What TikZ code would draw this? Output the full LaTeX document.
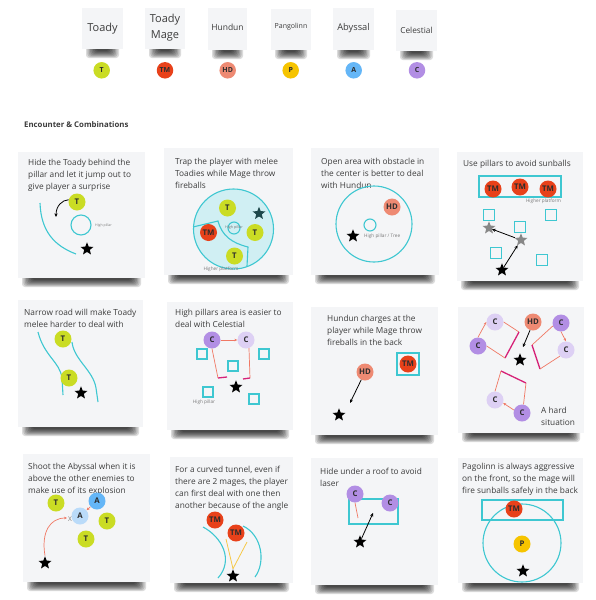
\documentclass[tikz,border=0pt]{standalone}
\usepackage{fontspec}
\setmainfont{Open Sans}
\usetikzlibrary{shapes.geometric,arrows.meta}
\definecolor{wallc}{RGB}{62,199,209}
\definecolor{poolc}{RGB}{208,239,243}
\definecolor{toadyc}{RGB}{202,220,36}
\definecolor{magec}{RGB}{232,65,26}
\definecolor{hdc}{RGB}{238,138,115}
\definecolor{pgc}{RGB}{246,196,0}
\definecolor{abyc}{RGB}{100,182,247}
\definecolor{abylc}{RGB}{186,219,249}
\definecolor{celc}{RGB}{178,142,228}
\definecolor{cellc}{RGB}{221,208,244}
\definecolor{laserc}{RGB}{240,120,100}
\definecolor{magc}{RGB}{214,34,120}
\definecolor{sightc}{RGB}{246,200,72}
\definecolor{tealstar}{RGB}{30,72,75}
\definecolor{graystar}{RGB}{135,135,135}
\definecolor{cardbg}{RGB}{244,245,247}
\definecolor{textc}{RGB}{60,60,60}
\definecolor{lettc}{RGB}{45,45,45}
\definecolor{labc}{RGB}{120,120,120}
\newcommand\cardat[5]{%
  \foreach \i in {0,...,7} {\fill[black, opacity=0.14, rounded corners=3pt] ({#2+4+1.4*\i},{#5-4}) rectangle ({#4-4-1.4*\i},{#5+9-\i});}
  \node[card, minimum width={#4-#2}, minimum height={#5-#3}] (#1) at ({(#2+#4)/2},{(#3+#5)/2}) {};}
\begin{document}
\begin{tikzpicture}[x=1pt,y=-1pt,
  card/.style={fill=cardbg, draw=none, inner sep=0pt, outer sep=0pt},
  ent/.style={circle, inner sep=0pt, minimum size=17pt, font=\fontsize{7.8}{7.8}\selectfont\bfseries, text=lettc},
  lent/.style={ent, minimum size=16.5pt, font=\fontsize{7}{7}\selectfont\bfseries},
  tdy/.style={ent, fill=toadyc}, mage/.style={ent, fill=magec}, hd/.style={ent, fill=hdc},
  pg/.style={ent, fill=pgc}, aby/.style={ent, fill=abyc}, abyl/.style={ent, fill=abylc},
  cel/.style={ent, fill=celc}, cell/.style={ent, fill=cellc},
  plr/.style={star, star points=5, star point ratio=2.3, fill=black, inner sep=0pt, minimum size=13.5pt},
  wall/.style={draw=wallc, line width=1.1pt},
  pillar/.style={draw=wallc, line width=1.1pt, inner sep=0pt, minimum size=11pt},
  laser/.style={draw=laserc, line width=0.7pt},
  lasend/.style={draw=magc, line width=1.3pt},
  lasarr/.style={-{Stealth[length=3pt,width=2.6pt]}},
  arr/.style={-{Stealth[length=3.6pt,width=3.2pt]}, line width=0.8pt, black},
  sight/.style={draw=sightc, line width=0.8pt},
  tinylab/.style={font=\fontsize{4.7}{5}\selectfont, text=labc, inner sep=0pt},
  cardtext/.style={anchor=north west, align=left, inner sep=0pt, font=\fontsize{8.3}{12}\selectfont, text=textc},
  notetext/.style={align=center, inner sep=0pt, text=textc}]
\useasboundingbox (0,0) rectangle (596,600);
\fill[white] (0,0) rectangle (596,600);
% ---------- legend ----------
\cardat{n1}{82}{8}{123}{49}
\cardat{n2}{145}{8}{185}{49}
\cardat{n3}{208}{8}{247}{50}
\cardat{n4}{271}{9}{311}{50}
\cardat{n5}{333}{8}{374}{50}
\cardat{n6}{396}{10}{437}{51}
\node[notetext, font=\fontsize{11}{16}\selectfont] (n1t) at (102.5,29) {Toady};
\node[notetext, font=\fontsize{11}{16}\selectfont] (n2t) at (165,28) {Toady\\Mage};
\node[notetext, font=\fontsize{8.5}{10}\selectfont] (n3t) at (227.5,27.5) {Hundun};
\node[notetext, font=\fontsize{7}{9}\selectfont] (n4t) at (291,27) {Pangolinn};
\node[notetext, font=\fontsize{9.3}{11}\selectfont] (n5t) at (353.5,28) {Abyssal};
\node[notetext, font=\fontsize{8.3}{10}\selectfont] (n6t) at (416.5,30) {Celestial};
\node[lent, fill=toadyc] (e1) at (101.7,70.3) {T};
\node[lent, fill=magec] (e2) at (165,70.3) {TM};
\node[lent, fill=hdc] (e3) at (227.7,70.3) {HD};
\node[lent, fill=pgc] (e4) at (290.7,70.3) {P};
\node[lent, fill=abyc] (e5) at (353.7,70.3) {A};
\node[lent, fill=celc] (e6) at (417,70.3) {C};
\node[anchor=west, inner sep=0pt, font=\fontsize{7.8}{9}\selectfont\bfseries, text=textc] (hdg) at (24,125) {Encounter \& Combinations};
% ---------- cards ----------
\cardat{k1}{18}{152}{145}{278}
\cardat{k2}{164}{148}{293}{275}
\cardat{k3}{311}{148}{439}{275}
\cardat{k4}{457}{152}{583}{281}
\cardat{k5}{18}{300}{143}{427}
\cardat{k6}{167}{302}{293}{430}
\cardat{k7}{311}{307}{438}{435}
\cardat{k8}{458}{307}{584}{433}
\cardat{k9}{23}{454}{150}{582}
\cardat{k10}{170}{457}{293}{583}
\cardat{k11}{311}{458}{438}{585}
\cardat{k12}{458}{458}{583}{583}
% ---------- card 1 ----------
\node[cardtext] (x1) at (28,159) {Hide the Toady behind the\\pillar and let it jump out to\\give player a surprise};
\draw[wall] (40,203) .. controls (41,232) and (55,246) .. (76,254);
\node[pillar, circle, minimum size=20pt] (p1) at (81,225) {};
\node[tinylab, font=\fontsize{3.5}{4}\selectfont, anchor=west] (l1) at (95,225.5) {High pillar};
\node[tdy] (t1) at (77,202) {T};
\coordinate (j1) at (56,217);
\draw[arr] (t1.165) .. controls (62,200) and (56,206) .. (j1);
\node[plr] (s1) at (87,249) {};
% ---------- card 2 ----------
\node[cardtext] (x2) at (175,158) {Trap the player with melee\\Toadies while Mage throw\\fireballs};
\node[circle, draw=wallc, fill=poolc, line width=1.1pt, minimum size=80pt, inner sep=0pt] (r2) at (233.5,229) {};
\draw[wall] (193,227) -- (218,221) .. controls (222,236) and (232,243) .. (248,247) -- (247,266);
\node[pillar, circle, minimum size=12pt] (p2) at (234,228) {};
\node[tinylab, font=\fontsize{3.7}{4}\selectfont] (l2) at (234,228) {High pillar};
\node[tdy] (t2a) at (227.5,208) {T};
\node[tdy] (t2b) at (255,232.5) {T};
\node[tdy] (t2c) at (234.5,256) {T};
\node[mage] (m2) at (208.5,232.5) {TM};
\node[plr, fill=tealstar] (s2) at (259,213.5) {};
\node[tinylab] (l2b) at (221,269.5) {Higher platform};
% ---------- card 3 ----------
\node[cardtext] (x3) at (321,158) {Open area with obstacle in\\the center is better to deal\\with Hundun};
\node[pillar, circle, minimum size=76pt] (r3) at (374,224) {};
\node[pillar, circle, minimum size=12pt] (p3) at (370,225) {};
\node[tinylab, anchor=west] (l3) at (364,236) {High pillar / Tree};
\node[hd] (h3) at (392,207) {HD};
\node[plr] (s3) at (353,236) {};
% ---------- card 4 ----------
\node[cardtext] (x4) at (463,160) {Use pillars to avoid sunballs};
\node[pillar, minimum width=82pt, minimum height=21pt] (r4) at (520,186.5) {};
\node[mage] (m4a) at (493,189) {TM};
\node[mage] (m4b) at (520,187) {TM};
\node[mage] (m4c) at (548,189) {TM};
\node[tinylab] (l4) at (543.5,201) {Higher platform};
\node[pillar] (q4a) at (489,215) {};
\node[pillar] (q4b) at (551,215) {};
\node[pillar] (q4c) at (520,227) {};
\node[pillar] (q4d) at (496,253) {};
\node[pillar] (q4e) at (542,260) {};
\node[plr, fill=graystar] (g4a) at (489,228) {};
\node[plr, fill=graystar] (g4b) at (521,240) {};
\node[plr] (s4) at (502,270) {};
\draw[arr] (s4) -- (g4b);
\draw[arr] (g4b) -- (g4a);
% ---------- card 5 ----------
\node[cardtext] (x5) at (24,309) {Narrow road will make Toady\\melee harder to deal with};
\draw[wall] (38,332) .. controls (44,356) and (60,362) .. (62,378) -- (63,395);
\draw[wall] (72,342) .. controls (74,360) and (93,370) .. (96,388) -- (98,402);
\node[tdy] (t5a) at (63,339) {T};
\node[tdy] (t5b) at (69,378) {T};
\node[plr] (s5) at (81,393) {};
% ---------- card 6 ----------
\node[cardtext] (x6) at (175,309) {High pillars area is easier to\\deal with Celestial};
\node[pillar, minimum size=10pt] (q6a) at (202,354) {};
\node[pillar, minimum size=10pt] (q6b) at (233,366) {};
\node[pillar, minimum size=10pt] (q6c) at (264,354) {};
\node[pillar, minimum size=10pt] (q6d) at (208,392) {};
\node[pillar, minimum size=10pt] (q6e) at (254,399) {};
\node[cel] (c6a) at (212,340) {C};
\node[cell] (c6b) at (246,340) {C};
\draw[laser, lasarr] (c6a) -- (c6b);
\coordinate (e6a) at (218,378);
\coordinate (e6b) at (227,377);
\coordinate (e6c) at (250,378);
\coordinate (e6d) at (243,379);
\draw[laser] (c6a.south) -- (e6a);
\draw[lasend] (e6a) -- (e6b);
\draw[laser] (c6b.-70) -- (e6c);
\draw[lasend] (e6d) -- (e6c);
\node[plr] (s6) at (236,387) {};
\node[tinylab] (l6) at (204,402) {High pillar};
% ---------- card 7 ----------
\node[cardtext] (x7) at (327,315) {Hundun charges at the\\player while Mage throw\\fireballs in the back};
\node[pillar, minimum size=22pt] (q7) at (408,364) {};
\node[mage] (m7) at (408,364) {TM};
\node[hd] (h7) at (365,372) {HD};
\coordinate (j7) at (350,403);
\draw[arr] (h7) -- (j7);
\node[plr] (s7) at (339,415) {};
% ---------- card 8 ----------
\node[cell] (cl1) at (495,322) {C};
\node[cel] (cd1) at (478,346) {C};
\node[hd] (h8) at (533,322) {HD};
\node[cel] (cd2) at (561,323) {C};
\node[cell] (cl2) at (566,350) {C};
\node[cell] (cl3) at (495,400) {C};
\node[cel] (cd3) at (522,413) {C};
\coordinate (f1a) at (519,332);
\coordinate (f1b) at (505,358);
\draw[laser, lasarr] (cd1.north) -- (cl1.west);
\draw[laser] (cl1.east) -- (f1a);
\draw[lasend] (f1a) -- (f1b);
\draw[laser] (f1b) -- (cd1.east);
\coordinate (f2a) at (532,345);
\coordinate (f2b) at (540,369);
\draw[laser, lasarr] (cd2.south) -- (cl2.north);
\draw[laser] (cd2.200) -- (f2a);
\draw[lasend] (f2a) -- (f2b);
\draw[laser] (f2b) -- (cl2.225);
\coordinate (f3a) at (501,371);
\coordinate (f3b) at (526,383);
\draw[laser, lasarr] (cd3.160) -- (cl3.-20);
\draw[lasend] (f3a) -- (f3b);
\draw[laser] (f3a) -- (cl3.north);
\draw[laser] (f3b) -- (cd3.80);
\node[plr] (s8) at (520,360) {};
\coordinate (j8) at (523,347);
\draw[arr] (h8.-110) -- (j8);
\node[cardtext] (x8) at (541,407) {A hard\\situation};
% ---------- card 9 ----------
\node[cardtext] (x9) at (28,463) {Shoot the Abyssal when it is\\above the other enemies to\\make use of its explosion};
\node[tdy] (t9a) at (56,503) {T};
\node[aby] (a9a) at (97,501) {A};
\node[abyl] (a9b) at (80,516) {A};
\node[tdy] (t9b) at (107,521) {T};
\node[tdy] (t9c) at (86,539) {T};
\draw[laser, lasarr] (a9a) -- (a9b);
\node[font=\fontsize{6.5}{7}\selectfont, text=labc, inner sep=0pt] (x9m) at (70,519) {X};
\node[plr] (s9) at (45,563) {};
\coordinate (j9) at (67,518);
\draw[laser, lasarr] (s9.north) .. controls (41,532) and (50,518) .. (j9);
% ---------- card 10 ----------
\node[cardtext] (x10) at (175,466) {For a curved tunnel, even if\\there are 2 mages, the player\\can first deal with one then\\another because of the angle};
\draw[wall] (203,527) .. controls (222,537) and (234,560) .. (218,578);
\draw[wall] (243,526) .. controls (262,535) and (266,562) .. (255,577);
\node[mage] (m10a) at (215,520) {TM};
\node[mage] (m10b) at (236,533) {TM};
\node[plr] (s10) at (233,576) {};
\coordinate (v10a) at (226,539);
\coordinate (v10b) at (247,542);
\draw[sight] (s10.north) -- (v10a);
\draw[sight] (s10.north) -- (v10b);
% ---------- card 11 ----------
\node[cardtext] (x11) at (320,468) {Hide under a roof to avoid\\laser};
\node[pillar, minimum width=49pt, minimum height=25pt] (r11) at (373.5,511.5) {};
\node[cel] (c11a) at (355,494) {C};
\node[cel] (c11b) at (390,503) {C};
\coordinate (e11) at (358,518);
\draw[laser] (c11a.south) -- (e11);
\node[plr] (s11) at (360,542) {};
\coordinate (j11) at (373,513);
\draw[arr] (s11) -- (j11);
% ---------- card 12 ----------
\node[cardtext] (x12) at (462,463) {Pagolinn is always aggressive\\on the front, so the mage will\\fire sunballs safely in the back};
\node[pillar, minimum width=81pt, minimum height=20pt] (r12) at (522.5,510) {};
\node[pillar, circle, minimum size=78pt] (o12) at (522,543) {};
\node[mage] (m12) at (514,509) {TM};
\node[pg] (p12) at (522,544) {P};
\node[plr] (s12) at (523,571) {};
\end{tikzpicture}
\end{document}
